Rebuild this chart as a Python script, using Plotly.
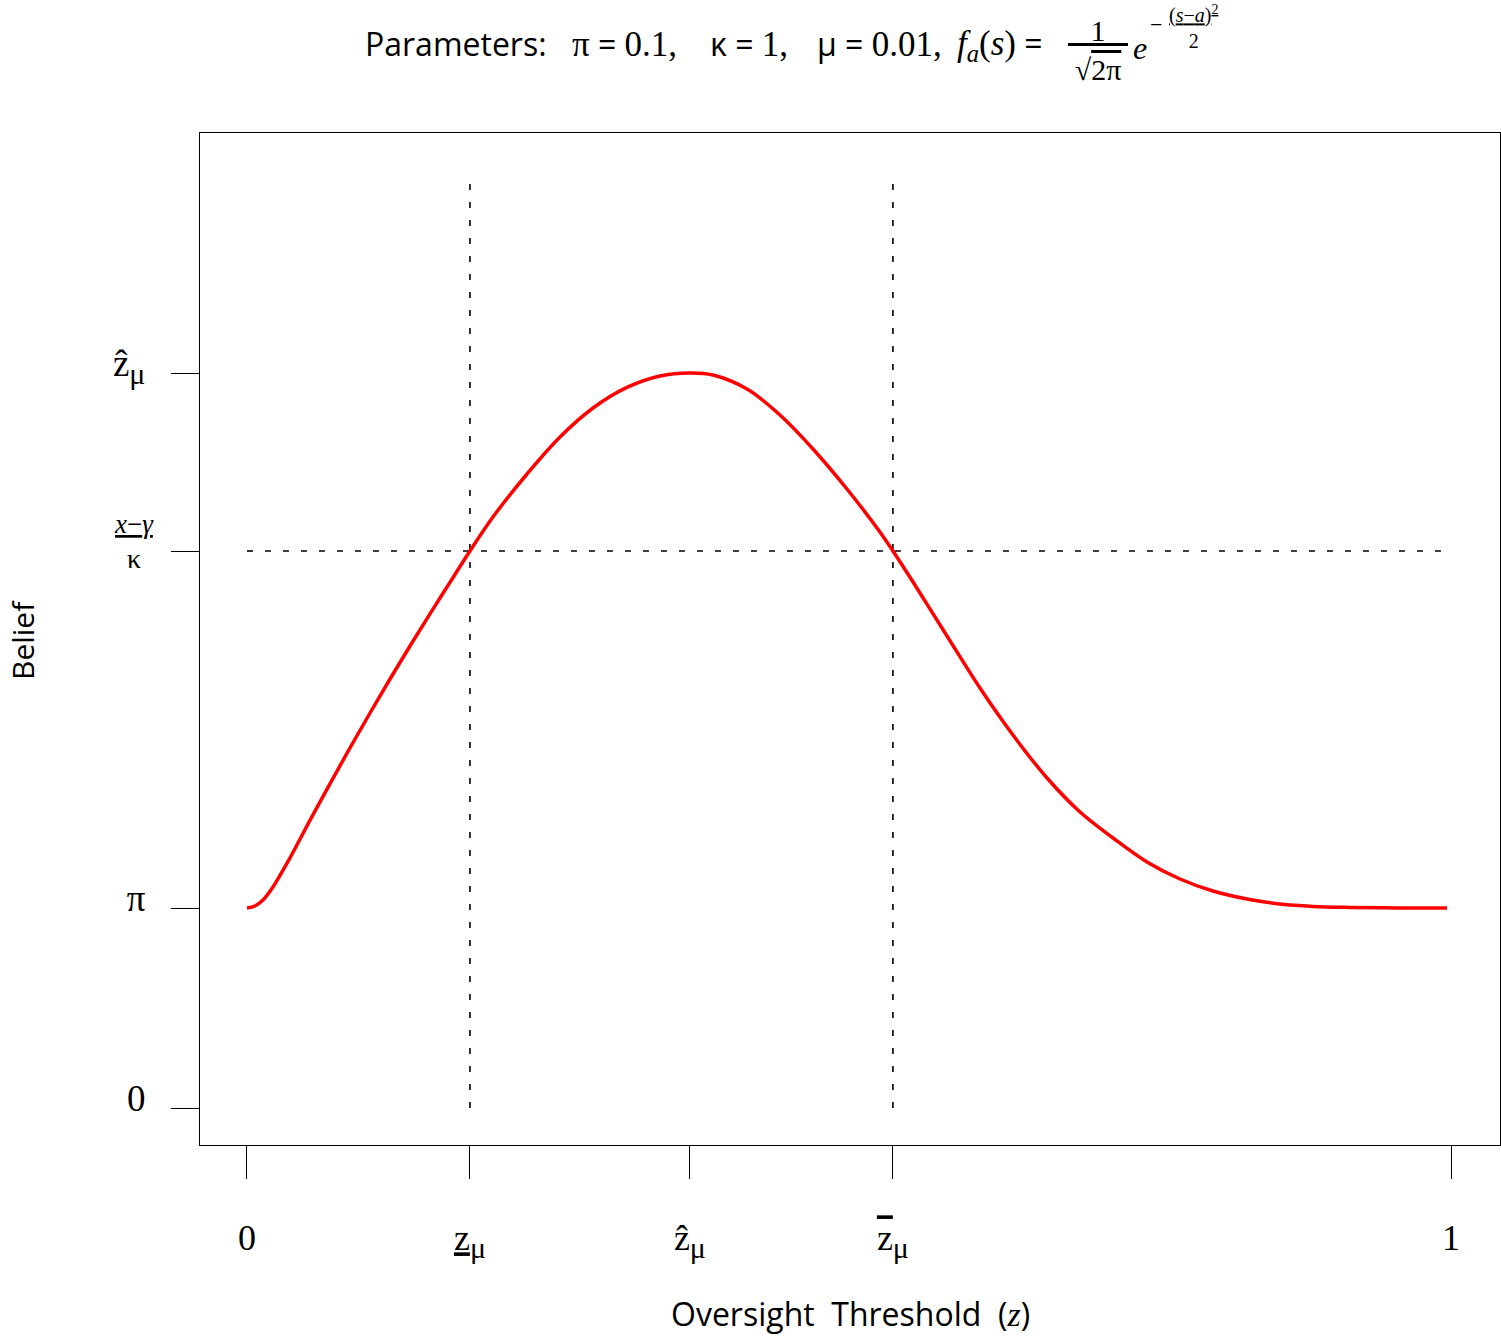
import plotly.graph_objects as go

# ---- data ----
z_vals = [0.0000, 0.0066, 0.0133, 0.0216, 0.0357, 0.0523, 0.0689, 0.0855, 0.1022, 0.1188,
          0.1354, 0.1520, 0.1686, 0.1852, 0.2043, 0.2326, 0.2600, 0.2874, 0.3156, 0.3430,
          0.3679, 0.3870, 0.4153, 0.4427, 0.4701, 0.4983, 0.5257, 0.5365, 0.5532, 0.5814,
          0.6088, 0.6362, 0.6645, 0.6919, 0.7193, 0.7475, 0.7749, 0.8023, 0.8306, 0.8580,
          0.8854, 0.9161, 0.9576, 0.9967]
belief = [0.1000, 0.1010, 0.1040, 0.1105, 0.1250, 0.1438, 0.1621, 0.1800, 0.1975, 0.2145,
          0.2310, 0.2471, 0.2628, 0.2785, 0.2955, 0.3170, 0.3355, 0.3500, 0.3603, 0.3660,
          0.3675, 0.3665, 0.3595, 0.3465, 0.3295, 0.3095, 0.2880, 0.2785, 0.2630, 0.2360,
          0.2100, 0.1865, 0.1650, 0.1480, 0.1350, 0.1230, 0.1145, 0.1085, 0.1045, 0.1020,
          0.1008, 0.1003, 0.1000, 0.1000]

pi_level = 0.1
cutoff_belief = 0.2785          # (x - gamma) / kappa
z_under = 0.1852                # lower threshold
z_hat = 0.3679                  # peak threshold
z_bar = 0.5365                  # upper threshold
belief_peak = 0.3675
vline_top = 0.465

SERIF = "Liberation Serif, DejaVu Serif, serif"
SANS = "Open Sans, Liberation Sans, sans-serif"
MU = "<sub><span style='font-size:30px'>μ</span></sub>"

x_tick_vals = [0, z_under, z_hat, z_bar, 1]
x_tick_text = ["0",
               "<u>z</u>" + MU,
               "ẑ" + MU,
               "<span style='text-decoration:overline'>z</span>" + MU,
               "1"]
y_tick_vals = [0, pi_level, cutoff_belief, belief_peak]
y_tick_text = ["0", "π", "", "ẑ" + MU]

fig = go.Figure()
dot = dict(color="black", width=1.6, dash="6px,12px")
fig.add_trace(go.Scatter(x=[0, 1], y=[cutoff_belief, cutoff_belief], mode="lines",
                         line=dot, showlegend=False, hoverinfo="skip"))
fig.add_trace(go.Scatter(x=[z_under, z_under], y=[0, vline_top], mode="lines",
                         line=dot, showlegend=False, hoverinfo="skip"))
fig.add_trace(go.Scatter(x=[z_bar, z_bar], y=[0, vline_top], mode="lines",
                         line=dot, showlegend=False, hoverinfo="skip"))
fig.add_trace(go.Scatter(x=z_vals, y=belief, mode="lines",
                         line=dict(color="#ff0000", width=3.5, shape="spline", smoothing=1.0),
                         showlegend=False))

W, H = 1501, 1338
L, R, T, B = 200, 1, 133, 193


def xp(px):
    return (px - L) / (W - L - R)


def yp(py):
    return (H - B - py) / (H - T - B)


fig.update_layout(
    width=W, height=H,
    margin=dict(l=L, r=R, t=T, b=B, pad=0),
    paper_bgcolor="white", plot_bgcolor="white",
    font=dict(family=SERIF, size=30, color="black"),
    xaxis=dict(range=[-0.039, 1.0407], showgrid=False, zeroline=False,
               showline=True, mirror=True, linecolor="black", linewidth=1.3,
               ticks="outside", ticklen=33, tickwidth=1.3, tickcolor="black",
               tickvals=x_tick_vals, ticktext=x_tick_text,
               tickfont=dict(family=SERIF, size=36), ticklabelstandoff=28),
    yaxis=dict(range=[-0.0185, 0.4875], showgrid=False, zeroline=False,
               showline=True, mirror=True, linecolor="black", linewidth=1.3,
               ticks="outside", ticklen=28, tickwidth=1.3, tickcolor="black",
               tickvals=y_tick_vals, ticktext=y_tick_text,
               tickfont=dict(family=SERIF, size=37), ticklabelstandoff=18,
               ticklabelshift=-10),
)

SER = "<span style='font-family:Liberation Serif;font-size:35px'>{}</span>"
ann = []
title_parts = [
    ("Parameters:", 363),
    (SER.format("π") + " = " + SER.format("0.1,"), 570),
    ("κ = " + SER.format("1,"), 708),
    ("μ = " + SER.format("0.01,"), 815),
    (SER.format("<i>f<sub>a</sub></i>(<i>s</i>)") + " =", 955),
]
for txt, px in title_parts:
    ann.append(dict(text=txt, x=xp(px), y=yp(44), xanchor="left", yanchor="middle",
                    font=dict(family=SANS, size=32)))
ann.append(dict(text="<u>&nbsp;&nbsp;&nbsp;1&nbsp;&nbsp;&nbsp;</u><br>√<span style='text-decoration:overline'>2π</span>",
                x=xp(1098), y=yp(50), xanchor="center", yanchor="middle",
                font=dict(family=SERIF, size=30)))
ann.append(dict(text="<i>e</i>", x=xp(1140), y=yp(48), xanchor="center", yanchor="middle",
                font=dict(family=SERIF, size=32)))
ann.append(dict(text="−", x=xp(1156), y=yp(24), xanchor="center", yanchor="middle",
                font=dict(family=SERIF, size=22)))
ann.append(dict(text="<u>(<i>s</i>−<i>a</i>)<sup>2</sup></u><br>2",
                x=xp(1193), y=yp(27), xanchor="center", yanchor="middle",
                font=dict(family=SERIF, size=20)))
# y tick label shown as a stacked fraction
ann.append(dict(text="<u><i>x</i>−<i>γ</i></u><br><span style='font-size:28px'>κ</span>",
                x=xp(134), y=yp(541), xanchor="center", yanchor="middle", align="center",
                font=dict(family=SERIF, size=27)))
ann.append(dict(text="Oversight&nbsp; Threshold&nbsp; (<span style='font-family:Liberation Serif;font-size:34px'><i>z</i></span>)",
                x=xp(850), y=yp(1313), xanchor="center", yanchor="middle",
                font=dict(family=SANS, size=32)))
ann.append(dict(text="Belief", x=xp(22), y=yp(640), xanchor="center", yanchor="middle",
                textangle=-90, font=dict(family=SANS, size=30)))
for a in ann:
    a.update(xref="paper", yref="paper", showarrow=False)
fig.update_layout(annotations=ann)

fig.write_html("out.html")
